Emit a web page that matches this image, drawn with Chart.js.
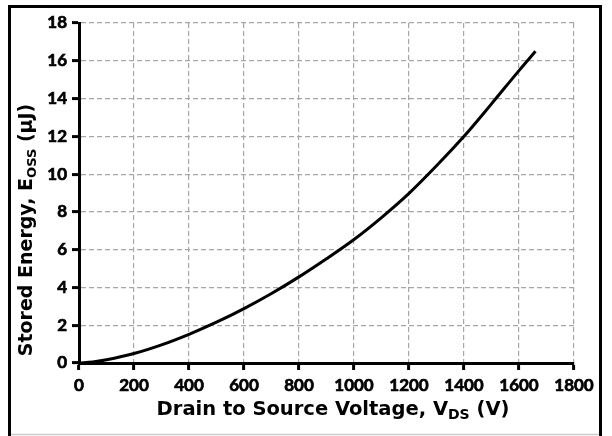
<!DOCTYPE html>
<html>
<head>
<meta charset="utf-8">
<script src="https://cdn.jsdelivr.net/npm/chart.js@4"></script>
<style>
  html, body { margin: 0; padding: 0; background: #fff; }
  #wrap { width: 612px; height: 436px; }
</style>
</head>
<body>
<div id="wrap"><canvas id="eossChart" width="612" height="436"></canvas></div>
<script>
// Eoss vs Vds curve
const vds = [0, 50, 100, 200, 300, 400, 500, 600, 700, 800, 900, 1000, 1100, 1200, 1300, 1400, 1500, 1600, 1660];
const eoss = [0, 0.05, 0.17, 0.5, 0.96, 1.52, 2.16, 2.88, 3.68, 4.56, 5.52, 6.54, 7.7, 8.98, 10.44, 12.0, 13.72, 15.48, 16.5];

const xTicks = [0, 200, 400, 600, 800, 1000, 1200, 1400, 1600, 1800];
const yTicks = [0, 2, 4, 6, 8, 10, 12, 14, 16, 18];

const TICK_FONT = 'Lato, "DejaVu Sans", sans-serif';
const TITLE_FONT = '"DejaVu Sans", sans-serif';

// draws "main" + subscript + "tail" centred on (0,0) of the current transform
function drawSubText(ctx, main, sub, tail, size) {
  const big = `bold ${size}px ${TITLE_FONT}`;
  const small = `bold ${Math.round(size * 0.7)}px ${TITLE_FONT}`;
  ctx.font = big;
  const w1 = ctx.measureText(main).width;
  const w3 = ctx.measureText(tail).width;
  ctx.font = small;
  const w2 = ctx.measureText(sub).width;
  let x = -(w1 + w2 + w3) / 2;
  ctx.textBaseline = 'middle';
  ctx.textAlign = 'left';
  ctx.fillStyle = '#000';
  ctx.font = big;
  ctx.fillText(main, x, 0);
  x += w1;
  ctx.font = small;
  ctx.fillText(sub, x, size * 0.28);
  x += w2;
  ctx.font = big;
  ctx.fillText(tail, x, 0);
}

const framePlugin = {
  id: 'frame',
  beforeDraw(chart) {
    const ctx = chart.ctx;
    ctx.save();
    ctx.fillStyle = '#fff';
    ctx.fillRect(0, 0, chart.width, chart.height);
    ctx.strokeStyle = '#ccc';
    ctx.lineWidth = 1.5;
    ctx.beginPath();
    ctx.moveTo(9, 434.5);
    ctx.lineTo(601, 434.5);
    ctx.stroke();
    ctx.strokeStyle = '#000';
    ctx.lineWidth = 3;
    ctx.beginPath();
    ctx.moveTo(9.5, 440);
    ctx.lineTo(9.5, 6.5);
    ctx.lineTo(600.5, 6.5);
    ctx.lineTo(600.5, 440);
    ctx.stroke();
    ctx.restore();
  },
  afterDraw(chart) {
    const ctx = chart.ctx;
    ctx.save();
    ctx.translate(333, 410);
    drawSubText(ctx, 'Drain to Source Voltage, V', 'DS', ' (V)', 19.5);
    ctx.restore();
    ctx.save();
    ctx.translate(27, 230);
    ctx.rotate(-Math.PI / 2);
    drawSubText(ctx, 'Stored Energy, E', 'OSS', ' (\u00b5J)', 19);
    ctx.restore();
  }
};

const tickOpts = {
  color: '#000',
  padding: 5,
  font: { family: TICK_FONT, size: 17, weight: 'bold' },
  textStrokeColor: '#000',
  textStrokeWidth: 0.7,
  callback: v => String(v)
};

new Chart(document.getElementById('eossChart'), {
  type: 'line',
  data: {
    datasets: [{
      data: vds.map((v, i) => ({ x: v, y: eoss[i] })),
      borderColor: '#000',
      borderWidth: 3,
      pointRadius: 0,
      cubicInterpolationMode: 'monotone',
      fill: false
    }]
  },
  options: {
    responsive: false,
    animation: false,
    layout: { padding: { left: 0, right: 38, top: 23, bottom: 0 } },
    plugins: { legend: { display: false }, tooltip: { enabled: false } },
    scales: {
      x: {
        type: 'linear',
        min: 0,
        max: 1800,
        afterFit: s => { s.height = 73; },
        afterBuildTicks: s => { s.ticks = xTicks.map(v => ({ value: v })); },
        ticks: tickOpts,
        grid: { color: '#a6a6a6', lineWidth: 1.2, tickColor: '#000', tickWidth: 3, tickLength: 7 },
        border: { color: '#000', width: 3, dash: [5, 3] }
      },
      y: {
        min: 0,
        max: 18,
        afterFit: s => { s.width = 79; },
        afterBuildTicks: s => { s.ticks = yTicks.map(v => ({ value: v })); },
        ticks: tickOpts,
        grid: { color: '#a6a6a6', lineWidth: 1.2, tickColor: '#000', tickWidth: 3, tickLength: 7 },
        border: { color: '#000', width: 3, dash: [5, 3] }
      }
    }
  },
  plugins: [framePlugin]
});
</script>
</body>
</html>
